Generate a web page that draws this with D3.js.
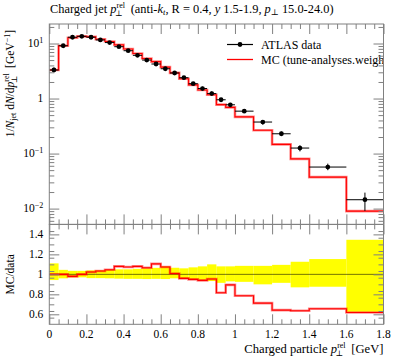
<!DOCTYPE html>
<html><head><meta charset="utf-8">
<script src="https://cdn.jsdelivr.net/npm/d3@7"></script>
<style>
body{margin:0;background:#fff}
text{font-family:'Liberation Serif','DejaVu Serif',serif;fill:#000}
</style></head>
<body><svg id="c" width="397" height="358"></svg>
<script>
// ---- data ----
const binEdges = [0,0.05,0.1,0.15,0.2,0.25,0.3,0.35,0.4,0.45,0.5,0.55,0.6,0.65,0.7,0.75,0.8,0.85,0.9,0.95,1.0,1.1,1.2,1.3,1.4,1.6,1.8];
const dataVals = [3.3,9.1,13.0,13.5,13.0,11.6,10.4,8.75,7.4,6.1,5.0,4.24,3.48,2.91,2.39,1.86,1.52,1.23,0.95,0.77,0.59,0.374,0.229,0.126,0.0569,0.0145];
const mcVals   = [3.3,9.1,12.74,13.5,13.3,11.98,10.88,9.45,7.94,6.59,5.33,4.69,3.73,2.93,2.29,1.77,1.43,1.17,0.775,0.69,0.464,0.266,0.147,0.080,0.0373,0.0090];
const ratioVals= [1.0,1.0,0.98,1.0,1.023,1.033,1.046,1.08,1.073,1.08,1.066,1.105,1.073,1.008,0.96,0.95,0.94,0.953,0.816,0.895,0.786,0.712,0.642,0.635,0.656,0.618];
const bandHi   = [1.11,1.045,1.035,1.035,1.04,1.04,1.045,1.05,1.05,1.055,1.06,1.065,1.08,1.066,1.06,1.07,1.08,1.1,1.08,1.08,1.085,1.085,1.095,1.126,1.153,1.346];
const bandLo   = [0.943,0.96,0.97,0.97,0.962,0.962,0.96,0.957,0.955,0.955,0.953,0.955,0.953,0.96,0.955,0.946,0.945,0.933,0.915,0.93,0.925,0.9,0.915,0.87,0.876,0.625];
const xTicksMajor = [0,0.2,0.4,0.6,0.8,1.0,1.2,1.4,1.6,1.8];
const xTickLabels = ["0","0.2","0.4","0.6","0.8","1","1.2","1.4","1.6","1.8"];
const ratioTicks = [0.6,0.8,1.0,1.2,1.4];
const ratioTickLabels = ["0.6","0.8","1","1.2","1.4"];
const logDecades = [-2,-1,0,1];
const legendLabels = ["ATLAS data","MC (tune-analyses.weights)"];

// ---- layout ----
const L=49.3, R=383.5, T=24, M=224.4, B=324.3;
const svg=d3.select("#c");
const x=d3.scaleLinear().domain([0,1.8]).range([L,R]);
const y=d3.scaleLog().domain([0.005164,22.62]).range([M,T]);
const yr=d3.scaleLinear().domain([0.5,1.5]).range([B,M]);
const frameCol="#808080";

const n=dataVals.length;
const bins=d3.range(n).map(i=>({lo:binEdges[i],hi:binEdges[i+1],c:(binEdges[i]+binEdges[i+1])/2,d:dataVals[i],m:mcVals[i],r:ratioVals[i],bh:bandHi[i],bl:bandLo[i]}));

svg.append("clipPath").attr("id","cm").append("rect").attr("x",L).attr("y",T).attr("width",R-L).attr("height",M-T);
svg.append("clipPath").attr("id","cr").append("rect").attr("x",L).attr("y",M).attr("width",R-L).attr("height",B-M);

// ---- ratio panel ----
const gr=svg.append("g").attr("clip-path","url(#cr)");
gr.selectAll("rect.band").data(bins).join("rect").attr("class","band")
  .attr("x",b=>x(b.lo)).attr("width",b=>x(b.hi)-x(b.lo))
  .attr("y",b=>yr(b.bh)).attr("height",b=>yr(b.bl)-yr(b.bh))
  .attr("fill","#ffff00");
gr.append("line").attr("x1",L).attr("x2",R).attr("y1",yr(1)).attr("y2",yr(1))
  .attr("stroke","#000").attr("stroke-opacity",0.55).attr("stroke-width",1);
const stepPts=(acc)=>bins.map(b=>[b.lo,acc(b)]).concat([[binEdges[n],acc(bins[n-1])]]);
const rline=d3.line().x(p=>x(p[0])).y(p=>yr(p[1])).curve(d3.curveStepAfter);
gr.append("path").attr("d",rline(stepPts(b=>b.r))).attr("fill","none").attr("stroke","#ff0000").attr("stroke-opacity",0.45).attr("stroke-width",2.6);
gr.append("path").attr("d",rline(stepPts(b=>b.r))).attr("fill","none").attr("stroke","#ff0000").attr("stroke-width",1.1);

// ---- main panel ----
const gm=svg.append("g").attr("clip-path","url(#cm)");
const mline=d3.line().x(p=>x(p[0])).y(p=>y(p[1])).curve(d3.curveStepAfter);
gm.append("path").attr("d",mline(stepPts(b=>b.m))).attr("fill","none").attr("stroke","#ff0000").attr("stroke-opacity",0.45).attr("stroke-width",2.6);
gm.append("path").attr("d",mline(stepPts(b=>b.m))).attr("fill","none").attr("stroke","#ff0000").attr("stroke-width",1.1);
gm.selectAll("line.h").data(bins).join("line").attr("class","h").attr("x1",b=>x(b.lo)).attr("x2",b=>x(b.hi)).attr("y1",b=>y(b.d)).attr("y2",b=>y(b.d)).attr("stroke","#000").attr("stroke-width",1);
gm.selectAll("line.v").data(bins).join("line").attr("class","v").attr("x1",b=>x(b.c)).attr("x2",b=>x(b.c)).attr("y1",b=>y(b.d*b.bh)).attr("y2",b=>y(b.d*b.bl)).attr("stroke","#000").attr("stroke-width",1);
gm.selectAll("circle.pt").data(bins).join("circle").attr("class","pt").attr("cx",b=>x(b.c)).attr("cy",b=>y(b.d)).attr("r",2.4).attr("fill","#000");

// ---- legend ----
svg.append("line").attr("x1",227).attr("x2",253).attr("y1",44.5).attr("y2",44.5).attr("stroke","#000").attr("stroke-width",1.2);
svg.append("circle").attr("cx",240).attr("cy",44.5).attr("r",2.4).attr("fill","#000");
svg.append("line").attr("x1",227).attr("x2",253).attr("y1",59.5).attr("y2",59.5).attr("stroke","#ff0000").attr("stroke-width",1.3);
const lg=svg.append("g").attr("clip-path","url(#cm)");
lg.append("text").attr("x",261).attr("y",48.5).attr("font-size",12).text(legendLabels[0]);
lg.append("text").attr("x",261).attr("y",63.5).attr("font-size",12).text(legendLabels[1]);

// ---- axes / frame ----
const minorX=d3.range(0,1.8001,0.05).filter(v=>Math.abs(v/0.2-Math.round(v/0.2))>1e-6);
function xAxes(yPos, dir){
  const maj=dir==="down"?d3.axisBottom(x):d3.axisTop(x);
  const g1=svg.append("g").attr("transform",`translate(0,${yPos})`).call(maj.tickValues(xTicksMajor).tickSize(-10).tickFormat(""));
  const mn=dir==="down"?d3.axisBottom(x):d3.axisTop(x);
  const g2=svg.append("g").attr("transform",`translate(0,${yPos})`).call(mn.tickValues(minorX).tickSize(-5).tickFormat(""));
  [g1,g2].forEach(g=>{g.selectAll("line").attr("stroke",frameCol);g.select(".domain").remove();});
}
xAxes(M,"down"); xAxes(T,"up"); xAxes(B,"down"); xAxes(M,"up");

const minorLog=[];
logDecades.concat([-3]).forEach(d=>{for(let k=2;k<=9;k++){const v=k*Math.pow(10,d);if(v>0.005164&&v<22.62)minorLog.push(v);}});
const majLog=logDecades.map(d=>Math.pow(10,d));
function yAxesMain(xPos,left){
  const a=left?d3.axisLeft(y):d3.axisRight(y);
  const g1=svg.append("g").attr("transform",`translate(${xPos},0)`).call(a.tickValues(majLog).tickSize(-10).tickFormat(""));
  const b=left?d3.axisLeft(y):d3.axisRight(y);
  const g2=svg.append("g").attr("transform",`translate(${xPos},0)`).call(b.tickValues(minorLog).tickSize(-5).tickFormat(""));
  [g1,g2].forEach(g=>{g.selectAll("line").attr("stroke",frameCol);g.select(".domain").remove();});
}
yAxesMain(L,true); yAxesMain(R,false);
const minorR=d3.range(0.5,1.5001,0.2/3).filter(v=>v>0.51&&v<1.49&&Math.abs((v-1)/0.2-Math.round((v-1)/0.2))>1e-6);
function yAxesRatio(xPos,left){
  const a=left?d3.axisLeft(yr):d3.axisRight(yr);
  const g1=svg.append("g").attr("transform",`translate(${xPos},0)`).call(a.tickValues(ratioTicks).tickSize(-10).tickFormat(""));
  const b=left?d3.axisLeft(yr):d3.axisRight(yr);
  const g2=svg.append("g").attr("transform",`translate(${xPos},0)`).call(b.tickValues(minorR).tickSize(-5).tickFormat(""));
  [g1,g2].forEach(g=>{g.selectAll("line").attr("stroke",frameCol);g.select(".domain").remove();});
}
yAxesRatio(L,true); yAxesRatio(R,false);

svg.append("rect").attr("x",L).attr("y",T).attr("width",R-L).attr("height",M-T).attr("fill","none").attr("stroke",frameCol);
svg.append("rect").attr("x",L).attr("y",M).attr("width",R-L).attr("height",B-M).attr("fill","none").attr("stroke",frameCol);

// ---- tick labels ----
const fs=11.5;
svg.selectAll("text.xl").data(xTicksMajor).join("text").attr("class","xl").attr("x",v=>x(v)).attr("y",B+13.5).attr("text-anchor","middle").attr("font-size",fs).text((v,i)=>xTickLabels[i]);
svg.selectAll("text.rl").data(ratioTicks).join("text").attr("class","rl").attr("x",L-6).attr("y",v=>yr(v)+3.5).attr("text-anchor","end").attr("font-size",fs).text((v,i)=>ratioTickLabels[i]);
logDecades.forEach(d=>{
  const t=svg.append("text").attr("x",L-6).attr("y",y(Math.pow(10,d))+3.5).attr("text-anchor","end").attr("font-size",fs);
  if(d===0){t.text("1");}
  else{t.append("tspan").text("10");t.append("tspan").attr("dy",-4).attr("font-size",8).text(d<0?"\u2212"+(-d):String(d));}
});

// ---- helper: p_perp^rel ----
function pperp(t){
  t.append("tspan").attr("font-style","italic").text("p");
  t.append("tspan").attr("font-size",8).attr("dy",-5).text("rel");
  t.append("tspan").attr("font-size",8).attr("dx",-10).attr("dy",8).text("\u22a5");
  t.append("tspan").attr("dx",4).attr("dy",-3).text("\u200a");
}

// ---- title ----
const title=svg.append("text").attr("x",50).attr("y",13).attr("font-size",12.4);
title.append("tspan").text("Charged jet ");
pperp(title);
title.append("tspan").text(" (anti-");
title.append("tspan").attr("font-style","italic").text("k");
title.append("tspan").attr("font-style","italic").attr("font-size",8.5).attr("dy",2).text("t");
title.append("tspan").attr("dy",-2).text(", R = 0.4, ");
title.append("tspan").attr("font-style","italic").text("y");
title.append("tspan").text(" 1.5-1.9, ");
title.append("tspan").attr("font-style","italic").text("p");
title.append("tspan").attr("font-size",8.5).attr("dy",2).text("\u22a5");
title.append("tspan").attr("dy",-2).text(" 15.0-24.0)");

// ---- axis titles ----
const xt=svg.append("text").attr("x",R).attr("y",353).attr("text-anchor","end").attr("font-size",12.6);
xt.append("tspan").text("Charged particle ");
pperp(xt);
xt.append("tspan").text(" [GeV]");

const yt=svg.append("text").attr("transform","translate(14,30) rotate(-90)").attr("text-anchor","end").attr("font-size",11.5);
yt.append("tspan").text("1/");
yt.append("tspan").attr("font-style","italic").text("N");
yt.append("tspan").attr("font-size",8).attr("dy",2).text("jet");
yt.append("tspan").attr("dy",-2).text(" d");
yt.append("tspan").attr("font-style","italic").text("N");
yt.append("tspan").text("/d");
pperp(yt);
yt.append("tspan").text(" [GeV");
yt.append("tspan").attr("font-size",8).attr("dy",-4).text("\u22121");
yt.append("tspan").attr("dy",4).text("]");

svg.append("text").attr("transform",`translate(14,${yr(1)}) rotate(-90)`).attr("text-anchor","middle").attr("font-size",11.5).text("MC/data");
</script></body></html>
